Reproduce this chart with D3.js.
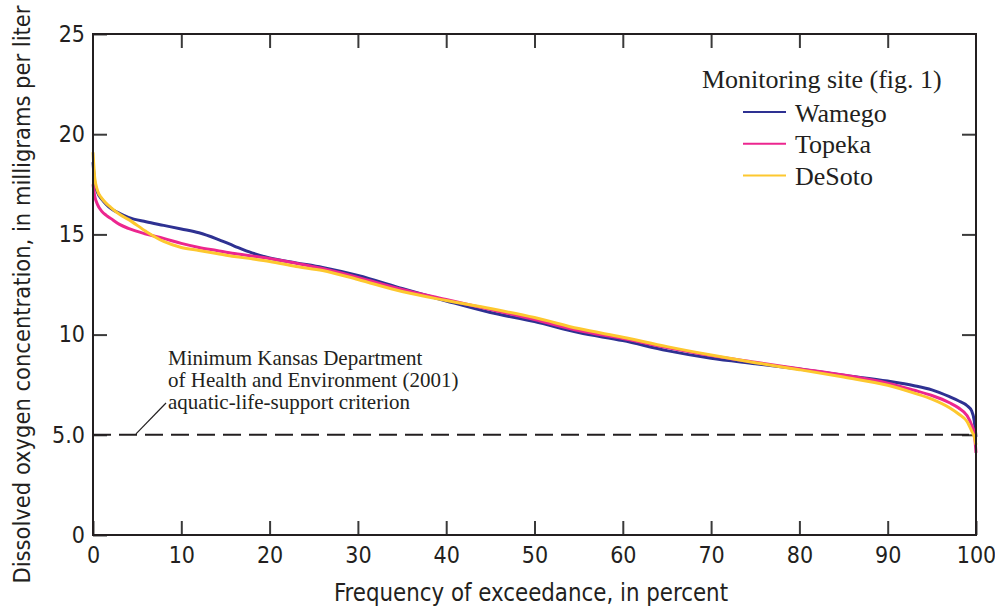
<!DOCTYPE html>
<html>
<head>
<meta charset="utf-8">
<script src="https://cdn.jsdelivr.net/npm/d3@7"></script>
<style>
  html, body { margin: 0; padding: 0; background: #fff; }
  svg { display: block; }
  .sans { font-family: "Liberation Sans Narrow", "DejaVu Sans Condensed", "Liberation Sans", sans-serif; fill: #231f20; }
  .serif { font-family: "Liberation Serif", "DejaVu Serif", serif; fill: #231f20; }
</style>
</head>
<body>
<svg id="chart" width="995" height="609"></svg>
<script>
// Frequency of exceedance (percent) at which each curve is sampled
const exceedance = [0, 0.2, 0.5, 1, 1.5, 2, 3, 4, 6, 8, 10, 12, 14, 16, 18, 20, 23, 26, 30, 35,
  40, 45, 50, 55, 60, 65, 70, 75, 80, 85, 90, 93, 95, 97, 98, 99, 99.5, 99.8, 100];

// Dissolved oxygen, milligrams per liter, at each monitoring site
const wamego = [18.6, 17.6, 17.1, 16.75, 16.5, 16.3, 16.05, 15.85, 15.63, 15.45, 15.27, 15.08, 14.78,
  14.42, 14.08, 13.82, 13.58, 13.35, 12.95, 12.3, 11.68, 11.1, 10.65, 10.1, 9.7, 9.2, 8.82, 8.55,
  8.28, 7.97, 7.68, 7.45, 7.24, 6.9, 6.7, 6.45, 6.2, 5.7, 4.9];
const topeka = [17.5, 16.9, 16.5, 16.15, 15.95, 15.8, 15.5, 15.3, 15.02, 14.8, 14.55, 14.35, 14.2,
  14.05, 13.92, 13.8, 13.56, 13.3, 12.85, 12.25, 11.75, 11.25, 10.75, 10.2, 9.8, 9.35, 8.95, 8.62,
  8.3, 7.98, 7.58, 7.22, 6.96, 6.6, 6.35, 5.95, 5.5, 5.1, 4.1];
const desoto = [19.1, 17.8, 17.2, 16.8, 16.55, 16.35, 16.0, 15.75, 15.15, 14.65, 14.35, 14.2, 14.05,
  13.9, 13.78, 13.65, 13.4, 13.2, 12.75, 12.15, 11.7, 11.3, 10.85, 10.3, 9.87, 9.4, 8.98, 8.6,
  8.25, 7.88, 7.47, 7.08, 6.78, 6.35, 6.05, 5.65, 5.2, 4.9, 4.5];

const siteNames = ["Wamego", "Topeka", "DeSoto"];
const siteColors = ["#2e3192", "#ec268f", "#fdc82f"];

const xTicks = [0, 10, 20, 30, 40, 50, 60, 70, 80, 90, 100];
const yTicks = [0, 5, 10, 15, 20, 25];
const yTickLabels = ["0", "5.0", "10", "15", "20", "25"];

const criterion = 5.0;
const criterionLabel = ["Minimum Kansas Department", "of Health and Environment (2001)", "aquatic-life-support criterion"];
const legendTitle = "Monitoring site (fig. 1)";
const xTitle = "Frequency of exceedance, in percent";
const yTitle = "Dissolved oxygen concentration, in milligrams per liter";

const series = [wamego, topeka, desoto].map((vals, i) => ({
  name: siteNames[i], color: siteColors[i],
  points: exceedance.map((x, j) => [x, vals[j]])
}));

const svg = d3.select("#chart");
const m = { left: 93, right: 976, top: 34, bottom: 535 };

const x = d3.scaleLinear().domain([0, 100]).range([m.left, m.right]);
const y = d3.scaleLinear().domain([0, 25]).range([m.bottom, m.top]);

// Inward ticks on all four sides
const tickLen = 14;
function styleAxis(g) {
  g.select(".domain").remove();
  g.selectAll(".tick line").attr("stroke", "#3a3a3a").attr("stroke-width", 2);
}

svg.append("g").attr("transform", `translate(0,${m.bottom})`)
  .call(d3.axisBottom(x).tickValues(xTicks).tickSize(-tickLen).tickPadding(12))
  .call(styleAxis)
  .call(g => g.selectAll("text").attr("class", "sans").style("font-size", "23px").attr("fill", "#231f20"));

svg.append("g").attr("transform", `translate(0,${m.top})`)
  .call(d3.axisTop(x).tickValues(xTicks.slice(1, -1)).tickSize(-tickLen).tickFormat(""))
  .call(styleAxis);

svg.append("g").attr("transform", `translate(${m.left},0)`)
  .call(d3.axisLeft(y).tickValues(yTicks).tickSize(-tickLen).tickPadding(8)
    .tickFormat((d, i) => yTickLabels[i]))
  .call(styleAxis)
  .call(g => g.selectAll("text").attr("class", "sans").style("font-size", "23px").attr("fill", "#231f20"));

svg.append("g").attr("transform", `translate(${m.right},0)`)
  .call(d3.axisRight(y).tickValues(yTicks.slice(1, -1)).tickSize(-tickLen).tickFormat(""))
  .call(styleAxis);

// Criterion line at 5.0 mg/L
svg.append("line")
  .attr("x1", x(0)).attr("x2", x(100))
  .attr("y1", y(criterion)).attr("y2", y(criterion))
  .attr("stroke", "#231f20").attr("stroke-width", 2)
  .attr("stroke-dasharray", "18 8");

// Exceedance curves
const line = d3.line().x(d => x(d[0])).y(d => y(d[1])).curve(d3.curveMonotoneX);
svg.append("g").selectAll("path").data(series).join("path")
  .attr("d", d => line(d.points))
  .attr("fill", "none")
  .attr("stroke", d => d.color)
  .attr("stroke-width", 3)
  .attr("stroke-linejoin", "round");

// Plot frame
svg.append("rect")
  .attr("x", m.left).attr("y", m.top)
  .attr("width", m.right - m.left).attr("height", m.bottom - m.top)
  .attr("fill", "none").attr("stroke", "#231f20").attr("stroke-width", 2);

// Criterion annotation with leader, one text element per line
svg.append("line")
  .attr("x1", 136).attr("y1", y(criterion) - 1)
  .attr("x2", 166).attr("y2", 403)
  .attr("stroke", "#231f20").attr("stroke-width", 1.2);
svg.append("g").selectAll("text").data(criterionLabel).join("text")
  .attr("class", "serif")
  .attr("x", 168).attr("y", (d, i) => 365 + i * 22)
  .style("font-size", "21px")
  .text(d => d);

// Legend
const legend = svg.append("g");
legend.append("text").attr("class", "serif")
  .attr("x", 702).attr("y", 88).style("font-size", "26px")
  .text(legendTitle);
const items = legend.selectAll("g.item").data(series).join("g")
  .attr("class", "item")
  .attr("transform", (d, i) => `translate(0,${112 + i * 31.7})`);
items.append("line")
  .attr("x1", 743).attr("x2", 786)
  .attr("stroke", d => d.color).attr("stroke-width", 2);
items.append("text").attr("class", "serif")
  .attr("x", 795).attr("y", 9.5).style("font-size", "26px")
  .text(d => d.name);

// Axis titles, set to a condensed width
svg.append("text").attr("class", "sans")
  .attr("x", 531).attr("y", 601)
  .attr("text-anchor", "middle").style("font-size", "24px")
  .attr("textLength", 394).attr("lengthAdjust", "spacingAndGlyphs")
  .text(xTitle);
svg.append("text").attr("class", "sans")
  .attr("transform", `translate(30,${(m.top + m.bottom) / 2 + 10}) rotate(-90)`)
  .attr("text-anchor", "middle").style("font-size", "23px")
  .attr("textLength", 578).attr("lengthAdjust", "spacingAndGlyphs")
  .text(yTitle);
</script>
</body>
</html>
